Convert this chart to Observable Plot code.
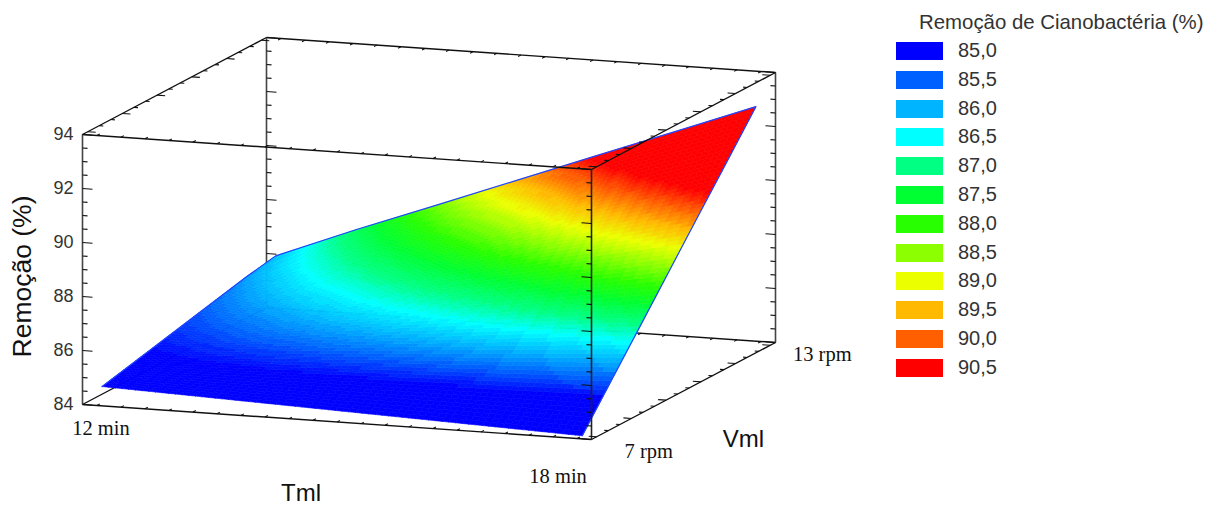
<!DOCTYPE html>
<html><head><meta charset="utf-8">
<script src="https://cdn.jsdelivr.net/npm/d3@7"></script>
<script src="https://cdn.jsdelivr.net/npm/@observablehq/plot@0.6"></script>
<style>
html,body{margin:0;padding:0;background:#fff}
#wrap{position:relative;width:1217px;height:506px;overflow:hidden}
#legend{position:absolute;left:880px;top:0;width:337px;height:506px;font-family:"Liberation Sans",Arial,sans-serif;color:#333}
#legend .t{position:absolute;left:39px;top:11px;font-size:20.4px;white-space:nowrap;line-height:22px}
#legend .r{position:absolute;left:16px;width:47px;height:18px}
#legend .l{position:absolute;left:78px;font-size:20px;line-height:22px}
</style></head>
<body><div id="wrap"><div id="plot"></div><div id="legend"></div></div>
<script>
const tempos = [12, 13, 14, 15, 16, 17, 18];           // Tml (min)
const velocidades = [7, 8, 9, 10, 11, 12, 13];         // Vml (rpm)
const remocao = [                                       // rows: Vml, columns: Tml
  [84.60, 84.50, 84.40, 84.30, 84.20, 84.10, 84.00],
  [84.85, 84.95, 85.06, 85.16, 85.26, 85.36, 85.47],
  [85.10, 85.41, 85.71, 86.02, 86.32, 86.63, 86.93],
  [85.35, 85.86, 86.37, 86.88, 87.38, 87.89, 88.40],
  [85.60, 86.31, 87.02, 87.73, 88.44, 89.16, 89.87],
  [85.85, 86.76, 87.68, 88.59, 89.51, 90.42, 91.33],
  [86.05, 87.22, 88.33, 89.45, 90.57, 91.68, 92.80]
];
const legendValues = [85, 85.5, 86, 86.5, 87, 87.5, 88, 88.5, 89, 89.5, 90, 90.5];
const legendColors = ["#0000ff","#005fff","#00b4ff","#00ffff","#00ff82","#00ff32","#28ff00","#8cff00","#ebff00","#ffb900","#ff5f00","#ff0000"];
const legendTitle = "Remoção de Cianobactéria (%)";
const removalTicks = d3.range(84, 94.01, 0.5);
const removalLabels = [84, 86, 88, 90, 92, 94];
const timeTicks = d3.range(12, 18.01, 0.3);
const speedTicks = d3.range(7, 13.01, 0.4);
const boxT = [11.82, 18.18], boxV = [6.82, 13.18], boxR = [84, 94];

// Oblique projection of (T, V, R) into the plane of the x and y scales
const spanT = boxT[1] - boxT[0], spanV = boxV[1] - boxV[0];
const PX = (T, V) => T + (184 / 509) * spanT * (V - boxV[0]) / spanV;
const PY = (T, V, R) => R - (35 / 27) * (T - boxT[0]) / spanT + (97 / 27) * (V - boxV[0]) / spanV;
const pt = (T, V, R, extra) => ({x: PX(T, V), y: PY(T, V, R), ...extra});
const seg = (a, b) => ({x1: PX(a[0], a[1]), y1: PY(...a), x2: PX(b[0], b[1]), y2: PY(...b)});

const [t0, t1] = boxT, [v0, v1] = boxV, [r0, r1] = boxR;

// Surface mesh: each cell of the read grid is shaded in 0.1 bands
const sub = 12, cells = [];
const lerp = (a, b, f) => a + (b - a) * f;
let id = 0;
for (let j = 0; j < velocidades.length - 1; j++) for (let i = 0; i < tempos.length - 1; i++) {
  const tA = tempos[i], tB = tempos[i + 1], vA = velocidades[j], vB = velocidades[j + 1];
  const q = (f, g) => {
    const r = lerp(lerp(remocao[j][i], remocao[j][i + 1], f), lerp(remocao[j + 1][i], remocao[j + 1][i + 1], f), g);
    return [lerp(tA, tB, f), lerp(vA, vB, g), r];
  };
  for (let a = 0; a < sub; a++) for (let b = 0; b < sub; b++) {
    const c = q((a + .5) / sub, (b + .5) / sub);
    const band = Math.round(c[2] * 10) / 10;
    const ring = [q(a / sub, b / sub), q((a + 1) / sub, b / sub), q((a + 1) / sub, (b + 1) / sub), q(a / sub, (b + 1) / sub), q(a / sub, b / sub)];
    id++;
    ring.forEach(p => cells.push(pt(p[0], p[1], p[2], {id, band})));
  }
}
const last = tempos.length - 1;
const edge = [
  ...velocidades.map((v, j) => pt(tempos[0], v, remocao[j][0])),
  ...tempos.map((t, i) => pt(t, velocidades[last], remocao[last][i])),
  ...velocidades.map((v, j) => pt(tempos[last], v, remocao[j][last])).reverse()
];

// Box lines
const backLines = [
  seg([t0, v0, r1], [t0, v1, r1]), seg([t0, v1, r1], [t1, v1, r1]),
  seg([t0, v0, r0], [t0, v1, r0]), seg([t0, v1, r0], [t1, v1, r0])
];
const backVerticals = [seg([t0, v1, r0], [t0, v1, r1]), seg([t1, v1, r0], [t1, v1, r1]), seg([t0, v0, r0], [t0, v0, r1])];
const frontLines = [
  seg([t0, v0, r1], [t1, v0, r1]), seg([t1, v0, r1], [t1, v1, r1]),
  seg([t0, v0, r0], [t1, v0, r0]), seg([t1, v0, r0], [t1, v1, r0])
];
const frontVerticals = [seg([t1, v0, r0], [t1, v0, r1])];

const rLen = r => (Math.abs(r % 2) < 1e-6 ? 0.125 : 0.0625);
const backTicks = [
  ...removalTicks.flatMap(r => [seg([t0, v0, r], [t0 + rLen(r), v0, r]), seg([t0, v1, r], [t0 + rLen(r), v1, r]), seg([t1, v1, r], [t1 - rLen(r), v1, r])]),
  ...timeTicks.map(t => seg([t, v1, r1], [t, v1 - 0.1, r1])),
  ...timeTicks.map(t => seg([t, v1, r0], [t, v1 - 0.1, r0])),
  ...speedTicks.map((v, k) => seg([t0, v, r1], [t0 + (k % 3 ? 0.05 : 0.1), v, r1]))
];
const frontTicks = [
  ...removalTicks.map(r => seg([t1, v0, r], [t1 - rLen(r), v0, r])),
  ...timeTicks.map(t => seg([t, v0, r1], [t, v0 + 0.1, r1])),
  ...timeTicks.map(t => seg([t, v0, r0], [t, v0 + 0.1, r0])),
  ...speedTicks.map((v, k) => seg([t1, v, r1], [t1 - (k % 3 ? 0.05 : 0.1), v, r1])),
  ...speedTicks.map((v, k) => seg([t1, v, r0], [t1 - (k % 3 ? 0.05 : 0.1), v, r0]))
];
const L = (d, o) => Plot.link(d, {x1: "x1", y1: "y1", x2: "x2", y2: "y2", stroke: "#111", ...o});
const sans = "Liberation Sans, Arial, sans-serif", serif = "Liberation Serif, Times New Roman, serif";

const chart = Plot.plot({
  width: 880, height: 506, margin: 0,
  style: {background: "transparent", overflow: "visible"},
  x: {axis: null, domain: boxT, range: [82, 591]},
  y: {axis: null, domain: boxR, range: [404, 134]},
  color: {type: "linear", domain: legendValues, range: legendColors, clamp: true},
  marks: [
    L(backLines, {strokeWidth: 1.4}),
    L(backVerticals, {stroke: "#444", strokeWidth: 1.6}),
    L(backTicks, {strokeWidth: 1.1}),
    Plot.line(cells, {x: "x", y: "y", z: "id", fill: "band", stroke: "band", strokeWidth: 0.6}),
    Plot.line(edge, {x: "x", y: "y", stroke: "#1f45ff", strokeWidth: 1.2}),
    L(frontLines, {strokeWidth: 1.4}),
    L(frontVerticals, {stroke: "#222", strokeWidth: 1.6}),
    L(frontTicks, {strokeWidth: 1.1}),
    Plot.text(removalLabels, {x: () => PX(t0, v0), y: r => PY(t0, v0, r), text: r => String(r), textAnchor: "end", dx: -9, fontFamily: sans, fontSize: 18, fill: "#333"}),
    Plot.text(["12 min"], {x: () => PX(12, v0), y: () => PY(12, v0, r0), dx: 4, dy: 23, fontFamily: serif, fontSize: 20.5, fill: "#111"}),
    Plot.text(["18 min"], {x: () => PX(18, v0), y: () => PY(18, v0, r0), dx: -19, dy: 38, fontFamily: serif, fontSize: 20.5, fill: "#111"}),
    Plot.text(["7 rpm"], {x: () => PX(t1, 7), y: () => PY(t1, 7, r0), dx: 52, dy: 15, fontFamily: serif, fontSize: 20.5, fill: "#111"}),
    Plot.text(["13 rpm"], {x: () => PX(t1, 13), y: () => PY(t1, 13, r0), dx: 52, dy: 9, fontFamily: serif, fontSize: 20.5, fill: "#111"}),
    Plot.text(["Tml"], {x: () => PX(15, v0), y: () => PY(15, v0, r0), dx: -36, dy: 71, fontFamily: sans, fontSize: 24, fill: "#111"}),
    Plot.text(["Vml"], {x: () => PX(t1, 10), y: () => PY(t1, 10, r0), dx: 60, dy: 48, fontFamily: sans, fontSize: 24, fill: "#111"}),
    Plot.text(["Remoção (%)"], {x: () => PX(t0, v0), y: () => PY(t0, v0, 89), dx: -60, dy: 7, rotate: -90, fontFamily: sans, fontSize: 26.5, fill: "#111"})
  ]
});
document.getElementById("plot").appendChild(chart);

const legend = document.getElementById("legend");
legend.innerHTML = `<div class="t">${legendTitle}</div>` + legendValues.map((v, i) => {
  const top = 42 + i * 28.8;
  return `<div class="r" style="top:${top}px;background:${legendColors[i]}"></div><div class="l" style="top:${top - 3}px">${v.toFixed(1).replace(".", ",")}</div>`;
}).join("");
</script></body></html>
